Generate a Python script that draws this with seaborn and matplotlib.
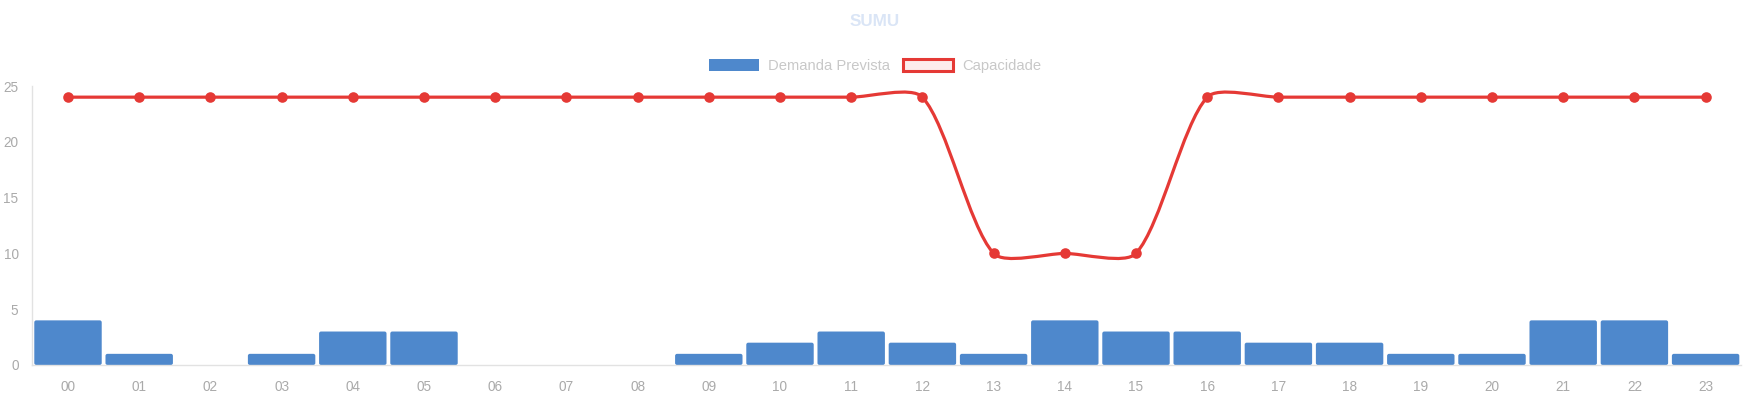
import numpy as np
import pandas as pd
import matplotlib
matplotlib.use("Agg")
import matplotlib.pyplot as plt
from matplotlib.path import Path
from matplotlib.patches import PathPatch, Patch, FancyBboxPatch
import seaborn as sns

hours = [f"{h:02d}" for h in range(24)]
demanda = [4, 1, 0, 1, 3, 3, 0, 0, 0, 1, 2, 3, 2, 1, 4, 3, 3, 2, 2, 1, 1, 4, 4, 1]
capacidade = [24, 24, 24, 24, 24, 24, 24, 24, 24, 24, 24, 24, 24, 10, 10, 10, 24, 24, 24, 24, 24, 24, 24, 24]
y_ticks = [0, 5, 10, 15, 20, 25]

BLUE = "#4e88cc"
RED = "#e53935"
PINK = "#fdecec"
TICK = "#aaaaaa"

sns.set_theme(style="white")
plt.rcParams["font.family"] = ["Liberation Sans", "DejaVu Sans"]

W, H = 1750, 400
fig = plt.figure(figsize=(W / 100, H / 100), dpi=100)
left, right, top, bottom = 32.4, 1741.2, 86, 365
ax = fig.add_axes([left / W, 1 - bottom / H, (right - left) / W, (bottom - top) / H])

df = pd.DataFrame({"hora": hours, "demanda": demanda, "capacidade": capacidade})
sns.barplot(data=df, x="hora", y="demanda", color=BLUE, width=0.947, ax=ax,
            saturation=1, zorder=2)

ax.set_xlim(-0.5, 23.5)
ax.set_ylim(0, 25)

sx = (right - left) / 24.0
sy = (bottom - top) / 25.0

# slightly rounded bar corners (like Chart.js)
for p in list(ax.patches):
    x0, y0, w, h = p.get_x(), p.get_y(), p.get_width(), p.get_height()
    if h > 0:
        r = 2.0 / sx
        fb = FancyBboxPatch((x0, y0), w, h, boxstyle=f"round,pad=0,rounding_size={r}",
                            mutation_aspect=sx / sy, facecolor=BLUE, edgecolor="none",
                            zorder=2)
        ax.add_patch(fb)
    p.remove()

# Chart.js-like bezier spline computed in pixel space
xs = np.arange(len(capacidade), dtype=float)
ys = np.array(capacidade, dtype=float)
px = xs * sx
py = ys * sy
t = 0.25
n = len(xs)
cp_prev = []
cp_next = []
for i in range(n):
    p0 = (px[max(i - 1, 0)], py[max(i - 1, 0)])
    p1 = (px[i], py[i])
    p2 = (px[min(i + 1, n - 1)], py[min(i + 1, n - 1)])
    d01 = np.hypot(p1[0] - p0[0], p1[1] - p0[1])
    d12 = np.hypot(p2[0] - p1[0], p2[1] - p1[1])
    tot = d01 + d12
    s01 = d01 / tot if tot else 0
    s12 = d12 / tot if tot else 0
    fa = t * s01
    fb_ = t * s12
    cp_prev.append((p1[0] - fa * (p2[0] - p0[0]), p1[1] - fa * (p2[1] - p0[1])))
    cp_next.append((p1[0] + fb_ * (p2[0] - p0[0]), p1[1] + fb_ * (p2[1] - p0[1])))

verts = [(xs[0], ys[0])]
codes = [Path.MOVETO]
for i in range(n - 1):
    c1 = cp_next[i]
    c2 = cp_prev[i + 1]
    verts += [(c1[0] / sx, c1[1] / sy), (c2[0] / sx, c2[1] / sy), (xs[i + 1], ys[i + 1])]
    codes += [Path.CURVE4] * 3
ax.add_patch(PathPatch(Path(verts, codes), facecolor="none", edgecolor=RED,
                       lw=2.3, zorder=3, capstyle="round", joinstyle="round"))
sns.scatterplot(x=xs, y=ys, color=RED, s=58, edgecolor=RED, linewidth=0,
                ax=ax, zorder=4, legend=False)

ax.set_yticks(y_ticks)
ax.set_xlabel("")
ax.set_ylabel("")
ax.tick_params(axis="both", length=0, colors=TICK, labelsize=9.8)
ax.tick_params(axis="y", pad=10)
ax.tick_params(axis="x", pad=11)
for s in ["top", "right"]:
    ax.spines[s].set_visible(False)
for s in ["left", "bottom"]:
    ax.spines[s].set_color("#e2e2e2")
    ax.spines[s].set_linewidth(1.0)
ax.grid(False)

fig.text(875 / W, 1 - 22 / H, "SUMU", ha="center", va="center",
         fontsize=12.3, fontweight="bold", color="#dae5f6")

handles = [Patch(facecolor=BLUE, edgecolor=BLUE, lw=0),
           Patch(facecolor=PINK, edgecolor=RED, lw=2.2)]
leg = fig.legend(handles, ["Demanda Prevista", "Capacidade"], loc="center",
                 bbox_to_anchor=(875 / W, 1 - 66 / H), ncol=2, frameon=False,
                 fontsize=10.6, handlelength=3.4, handleheight=0.95,
                 handletextpad=0.6, columnspacing=0.9)
for txt in leg.get_texts():
    txt.set_color("#c8c8c8")

fig.savefig("out.png", dpi=100)
